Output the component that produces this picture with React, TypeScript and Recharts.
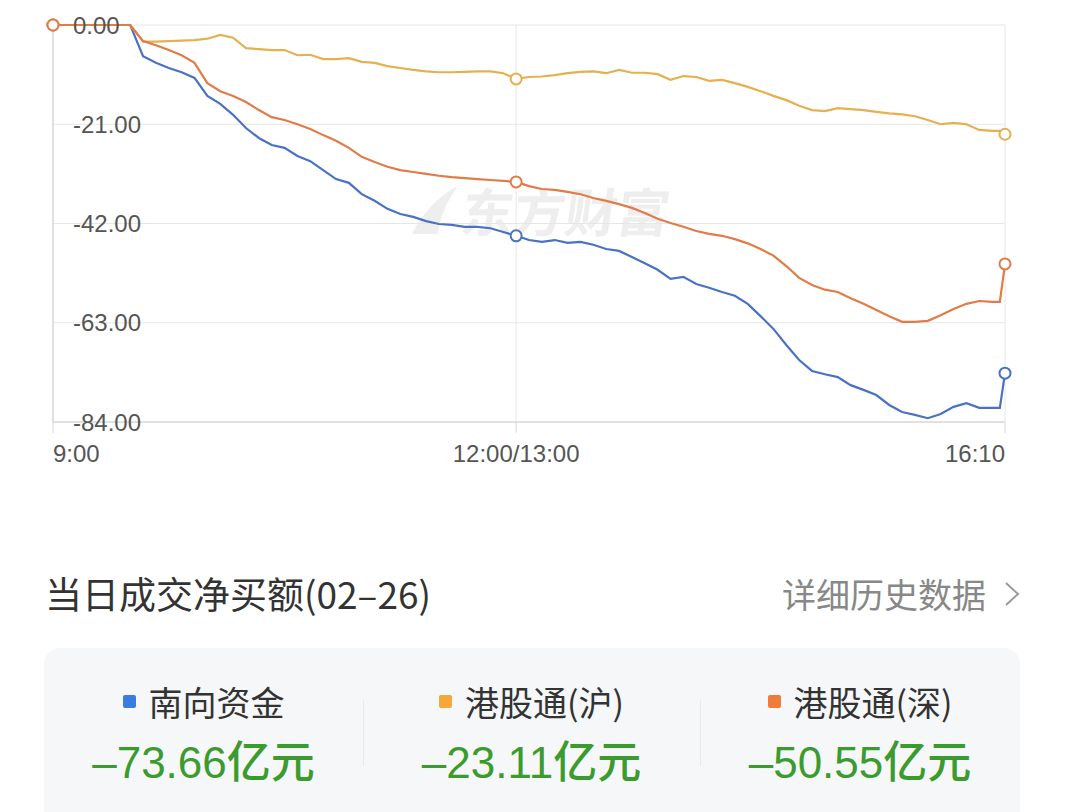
import React from "react";
import { CartesianGrid, Line, LineChart, XAxis, YAxis } from "recharts";

document.body.style.margin = "0";

// minutes since 9:00 (lunch break folded: 180 = 12:00/13:00, 370 = 16:10)
const minutes = [
	0, 5, 10, 15, 20, 25, 30, 35, 40, 45, 50, 55, 60, 65, 70, 75, 80, 85, 90, 95,
	100, 105, 110, 115, 120, 125, 130, 135, 140, 145, 150, 155, 160, 165, 170, 175,
	180, 185, 190, 195, 200, 205, 210, 215, 220, 225, 230, 235, 240, 245, 250, 255,
	260, 265, 270, 275, 280, 285, 290, 295, 300, 305, 310, 315, 320, 325, 330, 335,
	340, 345, 350, 355, 360, 365, 368, 370,
];

// 南向资金
const southbound = [
	0, 0, 0, 0, 0, 0, 0, -6.6, -8.0, -9.1, -10.0, -11.2, -15.0, -16.7, -19.0, -21.8,
	-23.9, -25.4, -26.0, -27.7, -28.8, -30.7, -32.6, -33.4, -35.8, -37.2, -38.9, -40.0,
	-40.6, -41.5, -42.1, -42.3, -42.7, -42.7, -43.0, -43.8, -44.6, -45.5, -45.9, -45.5,
	-46.1, -45.9, -46.5, -47.4, -47.8, -49.1, -50.4, -51.8, -53.7, -53.3, -54.8, -55.6,
	-56.5, -57.3, -59.0, -61.6, -64.3, -67.7, -70.9, -73.2, -73.9, -74.5, -76.2, -77.2,
	-78.3, -80.4, -81.9, -82.5, -83.2, -82.3, -80.8, -80.0, -81.0, -81.0, -81.0, -73.66,
];

// 港股通(沪)
const shanghai = [
	0, 0, 0, 0, 0, 0, 0, -3.5, -3.5, -3.4, -3.3, -3.2, -2.9, -2.1, -2.7, -4.9, -5.1,
	-5.3, -5.3, -6.4, -6.3, -7.2, -7.2, -7.0, -7.8, -8.0, -8.7, -9.1, -9.5, -9.8, -10.0,
	-10.0, -9.9, -9.8, -9.8, -10.2, -11.4, -11.0, -10.9, -10.6, -10.2, -9.9, -9.8,
	-10.2, -9.5, -10.1, -10.1, -10.4, -11.6, -10.8, -11.0, -11.8, -11.6, -12.3, -13.1,
	-14.0, -15.0, -15.9, -17.1, -18.0, -18.2, -17.6, -17.8, -18.0, -18.4, -18.7, -18.9,
	-19.3, -20.1, -21.0, -20.7, -21.0, -22.2, -22.4, -22.4, -23.11,
];

// 港股通(深)
const shenzhen = [
	0, 0, 0, 0, 0, 0, 0, -3.4, -4.3, -5.3, -6.4, -8.0, -12.3, -14.0, -15.0, -16.3,
	-18.0, -19.5, -20.1, -21.0, -22.0, -23.3, -24.5, -26.0, -27.9, -29.0, -30.0, -30.7,
	-31.1, -31.5, -31.9, -32.2, -32.4, -32.6, -32.8, -33.0, -33.2, -34.1, -34.7, -34.9,
	-35.3, -35.8, -36.6, -37.2, -37.9, -38.7, -39.8, -41.0, -41.9, -42.7, -43.6, -44.2,
	-44.6, -45.3, -46.2, -47.4, -48.8, -51.0, -53.5, -55.0, -56.0, -56.5, -57.8, -59.0,
	-60.3, -61.6, -62.8, -62.8, -62.6, -61.4, -60.1, -59.0, -58.4, -58.6, -58.6, -50.55,
];

const timeTicks = [0, 180, 370];
const timeLabels = ["9:00", "12:00/13:00", "16:10"];
const valueTicks = [0, -21, -42, -63, -84];

const seriesNames = ["南向资金", "港股通(沪)", "港股通(深)"];
const seriesKeys = ["south", "sh", "sz"];
const lineColors = ["#4a72c4", "#e5b150", "#e27b47"];
const legendColors = ["#3b7ce0", "#f2a83c", "#f07b3a"];
const totals = [-73.66, -23.11, -50.55];

const rows = minutes.map((t, i) => ({
	t,
	south: southbound[i],
	sh: shanghai[i],
	sz: shenzhen[i],
}));

const markIdx = [0, minutes.indexOf(180), minutes.length - 1];

const NUM_FONT = "Arial, 'Liberation Sans', 'Noto Sans CJK SC', sans-serif";
const CJK_FONT = "'Noto Sans CJK SC', Arial, sans-serif";

function TimeTick(props: any) {
	const { x, y, payload, index } = props;
	const anchor = index === 0 ? "start" : index === timeTicks.length - 1 ? "end" : "middle";
	return (
		<text x={x} y={y} dy="0.71em" textAnchor={anchor} fill="#555" fontSize={24} fontFamily={NUM_FONT}>
			{timeLabels[timeTicks.indexOf(payload.value)]}
		</text>
	);
}

function makeDot(color: string) {
	return (props: any) => {
		const { cx, cy, index } = props;
		if (!markIdx.includes(index)) return <g key={`d-${index}`} />;
		return <circle key={`d-${index}`} cx={cx} cy={cy} r={5.5} fill="#fff" stroke={color} strokeWidth={2} />;
	};
}

function Watermark() {
	return (
		<div style={{ position: "absolute", left: 408, top: 182, display: "flex", alignItems: "center", zIndex: 0 }}>
			<svg width={52} height={52} viewBox="0 0 52 52">
				<path d="M4,50 C14,30 30,12 50,2 C38,18 32,34 30,50 Z" fill="#eeeeee" />
			</svg>
			<span
				style={{
					fontFamily: CJK_FONT,
					fontWeight: 700,
					fontSize: 52,
					color: "#eeeeee",
					marginLeft: 2,
					display: "inline-block",
					transform: "skewX(-8deg)",
					lineHeight: "56px",
				}}
			>
				东方财富
			</span>
		</div>
	);
}

export default function App() {
	return (
		<div style={{ position: "relative", width: 1080, height: 812, background: "#fff", overflow: "hidden" }}>
			<Watermark />
			<div style={{ position: "absolute", left: 0, top: 0, zIndex: 1 }}>
				<LineChart width={1080} height={470} data={rows} margin={{ top: 25, right: 75, bottom: 8, left: 53 }}>
					<CartesianGrid stroke="#e6e6e6" strokeWidth={1} />
					<XAxis
						dataKey="t"
						type="number"
						domain={[0, 370]}
						ticks={timeTicks}
						height={40}
						tickSize={11}
						tickMargin={12}
						axisLine={{ stroke: "#cfcfcf" }}
						tickLine={{ stroke: "#d6d6d6" }}
						tick={<TimeTick />}
						interval={0}
					/>
					<YAxis
						type="number"
						domain={[-84, 0]}
						ticks={valueTicks}
						mirror
						tickSize={0}
						tickMargin={20}
						axisLine={{ stroke: "#cfcfcf" }}
						tickLine={false}
						tickFormatter={(v: number) => v.toFixed(2)}
						tick={{ fill: "#555", fontSize: 24, fontFamily: NUM_FONT }}
						interval={0}
					/>
					{seriesKeys.map((k, i) => (
						<Line
							key={k}
							dataKey={k}
							name={seriesNames[i]}
							type="linear"
							stroke={lineColors[i]}
							strokeWidth={2.2}
							dot={makeDot(lineColors[i])}
							activeDot={false}
							isAnimationActive={false}
						/>
					))}
				</LineChart>
			</div>

			<div
				style={{
					position: "absolute",
					left: 45,
					top: 573,
					fontFamily: CJK_FONT,
					fontSize: 37,
					lineHeight: "40px",
					color: "#333",
				}}
			>
				当日成交净买额(02–26)
			</div>
			<div
				style={{
					position: "absolute",
					right: 60,
					top: 574,
					display: "flex",
					alignItems: "center",
					fontFamily: CJK_FONT,
					fontSize: 34,
					lineHeight: "40px",
					color: "#888",
				}}
			>
				详细历史数据
				<svg width={16} height={26} viewBox="0 0 16 26" style={{ marginLeft: 18 }}>
					<polyline points="2,2 14,13 2,24" fill="none" stroke="#9a9a9a" strokeWidth={2} />
				</svg>
			</div>

			<div
				style={{
					position: "absolute",
					left: 44,
					top: 648,
					width: 976,
					height: 200,
					background: "#f6f7f9",
					borderRadius: 16,
				}}
			>
				{[319, 656].map((x) => (
					<div key={x} style={{ position: "absolute", left: x, top: 52, width: 1, height: 66, background: "#e8e9eb" }} />
				))}
				<div style={{ display: "flex" }}>
					{seriesNames.map((name, i) => (
						<div key={name} style={{ width: [319, 337, 320][i], textAlign: "center" }}>
							<div
								style={{
									marginTop: 33,
									height: 40,
									display: "flex",
									alignItems: "center",
									justifyContent: "center",
									fontFamily: CJK_FONT,
									fontSize: 34,
									color: "#333",
								}}
							>
								<span
									style={{
										width: 13,
										height: 13,
										borderRadius: 2,
										background: legendColors[i],
										marginRight: 13,
										display: "inline-block",
									}}
								/>
								{name}
							</div>
							<div
								style={{
									marginTop: 13,
									height: 50,
									lineHeight: "50px",
									fontFamily: NUM_FONT,
									fontSize: 44,
									fontWeight: 500,
									color: "#3c9b2e",
								}}
							>
								{(totals[i] < 0 ? "–" : "") + Math.abs(totals[i]).toFixed(2)}
								<span style={{ fontFamily: CJK_FONT }}>亿元</span>
							</div>
						</div>
					))}
				</div>
			</div>
		</div>
	);
}
